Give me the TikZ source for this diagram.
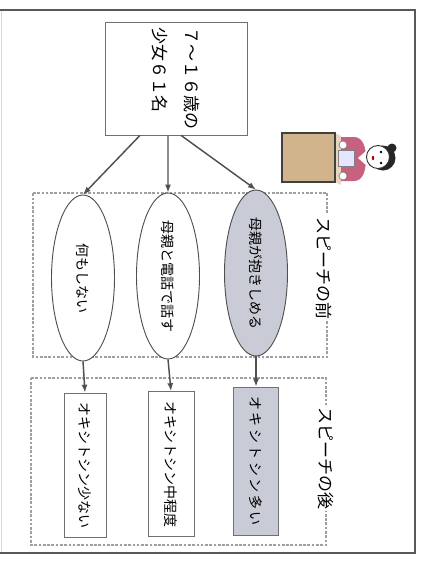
\documentclass[tikz,border=0pt]{standalone}
\usepackage{fontspec}
\setmainfont{Noto Sans CJK JP}
\usetikzlibrary{shapes.geometric,arrows.meta,calc}

\definecolor{lineg}{HTML}{505050}
\definecolor{boxg}{HTML}{707070}
\definecolor{shade}{HTML}{C9CCD6}
\definecolor{deskc}{HTML}{D2B48C}
\definecolor{dress}{HTML}{C8607F}

\tikzset{
	box/.style={rectangle, draw=boxg, line width=0.7pt, fill=white, font=\fontsize{14}{16}\selectfont},
	oval/.style={ellipse, draw=lineg, line width=0.7pt, fill=white, minimum width=166pt, minimum height=63pt, inner sep=0pt, font=\fontsize{14}{16}\selectfont},
	arr/.style={draw=lineg, line width=1.1pt, -{Latex[length=6pt,width=4.5pt]}},
	phase/.style={draw=gray!75, line width=0.9pt, dash pattern=on 2pt off 1.2pt},
	phaselabel/.style={fill=white, inner sep=2pt, font=\fontsize{17}{17}\selectfont},
}

\begin{document}
\begin{tikzpicture}[x=1pt, y=1pt]
% the slide is laid out upright and turned a quarter clockwise
\begin{scope}[rotate=-90, scale=0.75, transform shape]
	\useasboundingbox (0,0) rectangle (565,424);

	% page frame
	\draw[gray!30, line width=0.6pt] (10,1) -- (553,1);
	\draw[gray!70!black, line width=1.2pt] (10,0) -- (10,415) -- (553,415) -- (553,0);

	% before / after groups
	\draw[phase] (193,33) rectangle (357,327);
	\draw[phase] (378,31) rectangle (545,326);
	\node[phaselabel] (before) at (268,324) {スピーチの前};
	\node[phaselabel] (after) at (458,326) {スピーチの後};

	% girls
	\node[box, minimum width=113pt, minimum height=142pt, align=left,
		font=\fontsize{17}{32}\selectfont] (root) at (78.5,176) {７～１６歳の\\少女６１名};

	% what the mother did
	\node[oval] (e1) at (278,83) {何もしない};
	\node[oval] (e2) at (276,168) {母親と電話で話す};
	\node[oval, fill=shade] (e3) at (273,256) {母親が抱きしめる};

	% oxytocin level
	\node[box, minimum width=144pt, minimum height=42pt] (b1) at (465,85) {オキシトシン少ない};
	\node[box, minimum width=145pt, minimum height=46pt] (b2) at (464,171) {オキシトシン中程度};
	\node[box, minimum width=148pt, minimum height=45pt, fill=shade] (b3) at (461,256)
		{\addfontfeature{LetterSpace=18}オキシトシン多い};

	\draw[arr] ($(root.east)+(0,-36)$) -- (e1.west);
	\draw[arr] ($(root.east)+(0,-8)$) -- (e2.west);
	\draw[arr] ($(root.east)+(0,5)$) -- (e3.west);
	\draw[arr] (e1.east) -- (b1.west);
	\draw[arr] (e2.east) -- (b2.west);
	\draw[arr] (e3.east) -- (b3.west);

	% speaker at her desk
	\fill[deskc!55] (133,335) -- (182,335) -- (185,341) -- (136,341) -- cycle;
	\fill[dress] (137,341) -- (137,354) to[out=90,in=180] (158,366) to[out=0,in=90] (181,354) -- (181,341) -- cycle;
	\fill[white] (151,366) -- (165,366) -- (158,358) -- cycle;
	\draw[fill=blue!10, draw=gray, line width=0.5pt] (150,338) rectangle (166,354);
	\draw[fill=white, draw=gray, line width=0.5pt] (145,343) circle (4);
	\draw[fill=white, draw=gray, line width=0.5pt] (176,343) circle (4);
	\draw[fill=deskc, draw=black!75, line width=0.9pt] (133,282) rectangle (182,335);
	\fill[black!85] (158,383) circle (12.5);
	\fill[black!85] (148,392) circle (4.5);
	\draw[fill=white, draw=black!80, line width=0.7pt] (157,378) circle (11.5);
	\fill[black] (152,381) circle (1.3);
	\fill[black] (163,381) circle (1.3);
	\fill[red!70!black] (158,373) ellipse (2.2 and 1.2);
\end{scope}
\end{tikzpicture}
\end{document}
